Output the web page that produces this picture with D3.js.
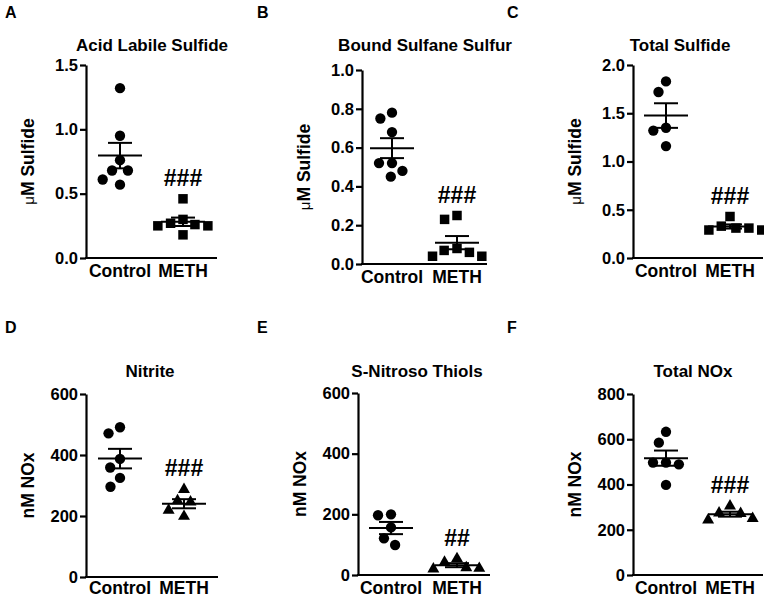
<!DOCTYPE html>
<html><head><meta charset="utf-8">
<script src="https://cdn.jsdelivr.net/npm/d3@7"></script>
<style>
body{margin:0;background:#fff}
svg{display:block}
text{font-family:"Liberation Sans",Arial,Helvetica,sans-serif;fill:#000}
</style>
</head><body><svg id="c" width="764" height="597"></svg>
<script>
// ---------- data ----------
const categories = ["Control", "METH"];
const panelLetters = ["A", "B", "C", "D", "E", "F"];
const titles = ["Acid Labile Sulfide", "Bound Sulfane Sulfur", "Total Sulfide", "Nitrite", "S-Nitroso Thiols", "Total NOx"];
const yTitles = ["μM Sulfide", "μM Sulfide", "μM Sulfide", "nM NOx", "nM NOx", "nM NOx"];
const sigLabels = ["###", "###", "###", "###", "##", "###"];

const controlA = [1.32, 0.95, 0.76, 0.68, 0.68, 0.61, 0.57];
const methA    = [0.46, 0.30, 0.27, 0.26, 0.25, 0.25, 0.18];
const controlB = [0.78, 0.75, 0.68, 0.52, 0.52, 0.48, 0.45];
const methB    = [0.25, 0.23, 0.08, 0.07, 0.06, 0.04, 0.04];
const controlC = [1.83, 1.72, 1.35, 1.32, 1.16];
const methC    = [0.43, 0.33, 0.31, 0.31, 0.29, 0.29];
const controlD = [491, 471, 387, 359, 325, 296];
const methD    = [287, 250, 246, 219, 199];
const controlE = [200, 197, 157, 121, 99];
const methE    = [54, 42, 24, 22, 20];
const controlF = [633, 585, 497, 497, 489, 398];
const methF    = [305, 274, 272, 250, 243];

const ticksA = [0, 0.5, 1.0, 1.5];
const ticksB = [0, 0.2, 0.4, 0.6, 0.8, 1.0];
const ticksC = [0, 0.5, 1.0, 1.5, 2.0];
const ticksD = [0, 200, 400, 600];
const ticksE = [0, 200, 400, 600];
const ticksF = [0, 200, 400, 600, 800];

const seriesControl = [controlA, controlB, controlC, controlD, controlE, controlF];
const seriesMeth = [methA, methB, methC, methD, methE, methF];
const tickSets = [ticksA, ticksB, ticksC, ticksD, ticksE, ticksF];

// ---------- layout (positions & styles) ----------
const layout = [
  {axisX: 86,  top: 65,  bottom: 258, c0: 120, c1: 183, titleX: 152, titleY: 51,  letterX: 5,   letterY: 18,  fmt: ".1f", methShape: "square"},
  {axisX: 362, top: 70,  bottom: 264, c0: 392, c1: 457, titleX: 425, titleY: 51,  letterX: 257, letterY: 18,  fmt: ".1f", methShape: "square"},
  {axisX: 633, top: 65,  bottom: 258, c0: 666, c1: 730, titleX: 680, titleY: 51,  letterX: 507, letterY: 18,  fmt: ".1f", methShape: "square"},
  {axisX: 86,  top: 394, bottom: 577, c0: 120, c1: 184, titleX: 150, titleY: 377, letterX: 5,   letterY: 333, fmt: "d",   methShape: "triangle"},
  {axisX: 358, top: 393, bottom: 575, c0: 391, c1: 457, titleX: 417, titleY: 377, letterX: 257, letterY: 333, fmt: "d",   methShape: "triangle"},
  {axisX: 633, top: 394, bottom: 575, c0: 666, c1: 730, titleX: 693, titleY: 377, letterX: 507, letterY: 333, fmt: "d",   methShape: "triangle"}
];

const svg = d3.select("#c");
const D = 13; // marker spacing for swarm

function swarm(values, y, cx) {
  const placed = [];
  values.forEach(v => {
    const py = y(v);
    const cands = [0];
    placed.forEach(p => {
      const dy = Math.abs(p.y - py);
      if (dy < D) {
        const dx = Math.sqrt(D * D - dy * dy);
        cands.push(p.x + dx, p.x - dx);
      }
    });
    cands.sort((a, b) => Math.abs(a) - Math.abs(b) || a - b);
    const x = cands.find(c => placed.every(p => (p.x - c) ** 2 + (p.y - py) ** 2 >= D * D - 1e-6));
    placed.push({x, y: py, v});
  });
  return placed.map(p => ({x: cx + p.x, y: p.y}));
}

const symbolType = {circle: d3.symbolCircle, square: d3.symbolSquare, triangle: d3.symbolTriangle};
const symbolSize = {circle: 84, square: 90, triangle: 62};

layout.forEach((L, i) => {
  const g = svg.append("g");
  const ticks = tickSets[i];
  const y = d3.scaleLinear().domain([0, d3.max(ticks)]).range([L.bottom, L.top]);
  const x = d3.scalePoint().domain(categories).range([L.c0, L.c1]);
  const right = L.c1 + (L.c0 - L.axisX);

  // panel letter
  g.append("text").attr("x", L.letterX).attr("y", L.letterY)
    .attr("font-size", 16).attr("font-weight", "bold").text(panelLetters[i]);
  // title
  g.append("text").attr("x", L.titleX).attr("y", L.titleY).attr("text-anchor", "middle")
    .attr("font-size", 17).attr("font-weight", "bold").text(titles[i]);

  // y axis
  const ax = g.append("g").attr("transform", `translate(${L.axisX},0)`)
    .call(d3.axisLeft(y).tickValues(ticks).tickSize(6).tickSizeOuter(0).tickPadding(2)
      .tickFormat(d3.format(L.fmt)));
  ax.select(".domain").attr("stroke", "#000").attr("stroke-width", 2.2);
  ax.selectAll(".tick line").attr("stroke", "#000").attr("stroke-width", 2.2);
  ax.selectAll(".tick text").attr("font-size", 16.5).attr("font-weight", "bold")
    .attr("font-family", "Liberation Sans, Arial, sans-serif").attr("fill", "#000");

  // x axis line
  g.append("line").attr("x1", L.axisX - 1).attr("x2", right).attr("y1", L.bottom).attr("y2", L.bottom)
    .attr("stroke", "#000").attr("stroke-width", 2.2);
  categories.forEach(c => {
    g.append("text").attr("x", x(c)).attr("y", Math.min(L.bottom + 19, 594)).attr("text-anchor", "middle")
      .attr("font-size", 17.5).attr("font-weight", "bold").text(c);
  });

  // y title
  const yt = g.append("text")
    .attr("transform", `translate(${L.axisX - 58},${(L.top + L.bottom) / 2}) rotate(-90)`)
    .attr("text-anchor", "middle").attr("dominant-baseline", "central")
    .attr("font-size", 17.5).attr("font-weight", "bold");
  const label = yTitles[i];
  if (label[0] === "μ") {
    yt.append("tspan").attr("font-weight", "normal").attr("font-size", 15).text("μ");
    yt.append("tspan").text(label.slice(1));
  } else {
    yt.text(label);
  }

  // points + error bars
  [seriesControl[i], seriesMeth[i]].forEach((vals, k) => {
    const cat = categories[k];
    const cx = x(cat);
    const shape = k === 0 ? "circle" : L.methShape;
    const pts = swarm(vals, y, cx);
    g.selectAll(null).data(pts).enter().append("path")
      .attr("d", d3.symbol().type(symbolType[shape]).size(symbolSize[shape]))
      .attr("transform", d => `translate(${d.x},${d.y})`)
      .attr("fill", "#000");

    const m = d3.mean(vals);
    const sem = d3.deviation(vals) / Math.sqrt(vals.length);
    const eb = g.append("g").attr("stroke", "#000").attr("stroke-width", 2);
    eb.append("line").attr("x1", cx - 22).attr("x2", cx + 22).attr("y1", y(m)).attr("y2", y(m));
    eb.append("line").attr("x1", cx).attr("x2", cx).attr("y1", y(m - sem)).attr("y2", y(m + sem));
    eb.append("line").attr("x1", cx - 12).attr("x2", cx + 12).attr("y1", y(m + sem)).attr("y2", y(m + sem));
    eb.append("line").attr("x1", cx - 12).attr("x2", cx + 12).attr("y1", y(m - sem)).attr("y2", y(m - sem));

    if (k === 1) {
      g.append("text").attr("x", cx).attr("y", y(d3.max(vals)) - 13).attr("text-anchor", "middle")
        .attr("font-size", 23).attr("font-weight", "bold").text(sigLabels[i]);
    }
  });
});
</script>
</body></html>
